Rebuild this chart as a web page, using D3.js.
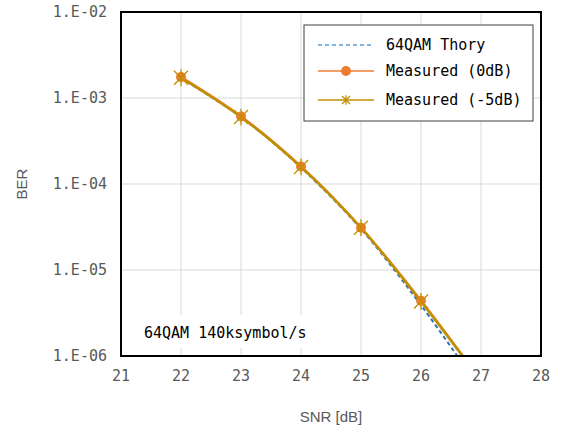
<!DOCTYPE html>
<html>
<head>
<meta charset="utf-8">
<script src="https://cdn.jsdelivr.net/npm/d3@7"></script>
<style>
  body { margin: 0; background: #fff; }
  text { font-family: "DejaVu Sans Mono", monospace; }
</style>
</head>
<body>
<div id="chart"></div>
<script>
const snr = [22, 23, 24, 25, 26, 27]
const theory = [1.7e-3, 6.0e-4, 1.55e-4, 3.0e-5, 3.9e-6, 4.0e-7]
const measured0 = [1.75e-3, 6.1e-4, 1.6e-4, 3.1e-5, 4.4e-6, 5.2e-7]
const measured5 = [1.72e-3, 6.0e-4, 1.58e-4, 3.1e-5, 4.3e-6, 5.1e-7]
const pointSnr = [22, 23, 24, 25, 26]
const xTicks = [21, 22, 23, 24, 25, 26, 27, 28]
const yTicks = [1e-2, 1e-3, 1e-4, 1e-5, 1e-6]
const seriesNames = ['64QAM Thory', 'Measured (0dB)', 'Measured (-5dB)']
const colors = ['#2e75b6', '#ed7d31', '#c09000']

const width = 561
const height = 427
const margin = { top: 12, right: 20, bottom: 71, left: 121 }

const svg = d3.select('#chart')
  .append('svg')
  .attr('width', width)
  .attr('height', height)

const x = d3.scaleLinear().domain([21, 28]).range([margin.left, width - margin.right])
const y = d3.scaleLog().domain([1e-6, 1e-2]).range([height - margin.bottom, margin.top])

const fmt = (v) => '1.E-0' + Math.round(-Math.log10(v))

// grid
svg.append('g')
  .selectAll('line')
  .data(xTicks)
  .join('line')
  .attr('x1', (d) => x(d)).attr('x2', (d) => x(d))
  .attr('y1', y(1e-2)).attr('y2', y(1e-6))
  .attr('stroke', '#d9d9d9')
svg.append('g')
  .selectAll('line')
  .data(yTicks)
  .join('line')
  .attr('x1', x(21)).attr('x2', x(28))
  .attr('y1', (d) => y(d)).attr('y2', (d) => y(d))
  .attr('stroke', '#d9d9d9')

// tick labels
svg.append('g')
  .selectAll('text')
  .data(xTicks)
  .join('text')
  .attr('x', (d) => x(d))
  .attr('y', y(1e-6) + 25)
  .attr('text-anchor', 'middle')
  .attr('font-size', 15)
  .attr('fill', '#595959')
  .text((d) => d)
svg.append('g')
  .selectAll('text')
  .data(yTicks)
  .join('text')
  .attr('x', x(21) - 14)
  .attr('y', (d) => y(d) + 5)
  .attr('text-anchor', 'end')
  .attr('font-size', 15)
  .attr('fill', '#595959')
  .text(fmt)

// axis titles
svg.append('text')
  .attr('x', (x(21) + x(28)) / 2)
  .attr('y', 422)
  .attr('text-anchor', 'middle')
  .attr('font-size', 15)
  .attr('fill', '#595959')
  .style('font-family', '"Liberation Sans", Arial, sans-serif')
  .text('SNR [dB]')
svg.append('text')
  .attr('transform', `translate(27, ${(y(1e-2) + y(1e-6)) / 2}) rotate(-90)`)
  .attr('text-anchor', 'middle')
  .attr('font-size', 15)
  .attr('fill', '#595959')
  .style('font-family', '"Liberation Sans", Arial, sans-serif')
  .text('BER')

// annotation
svg.append('rect')
  .attr('x', 137).attr('y', 315)
  .attr('width', 180).attr('height', 33)
  .attr('fill', '#fff')
svg.append('text')
  .attr('x', 144)
  .attr('y', 338)
  .attr('font-size', 15)
  .attr('fill', '#000')
  .text('64QAM 140ksymbol/s')

// clip
svg.append('clipPath').attr('id', 'clip')
  .append('rect')
  .attr('x', x(21)).attr('y', y(1e-2))
  .attr('width', x(28) - x(21)).attr('height', y(1e-6) - y(1e-2))

const line = d3.line()
  .x((d) => x(d[0]))
  .y((d) => y(d[1]))
  .curve(d3.curveCatmullRom)

const plot = svg.append('g').attr('clip-path', 'url(#clip)')

plot.append('path')
  .attr('d', line(d3.zip(snr, theory)))
  .attr('fill', 'none')
  .attr('stroke', colors[0])
  .attr('stroke-width', 2)
  .attr('stroke-dasharray', '4,3')
plot.append('path')
  .attr('d', line(d3.zip(snr, measured0)))
  .attr('fill', 'none')
  .attr('stroke', colors[1])
  .attr('stroke-width', 2.5)
plot.append('path')
  .attr('d', line(d3.zip(snr, measured5)))
  .attr('fill', 'none')
  .attr('stroke', colors[2])
  .attr('stroke-width', 2.5)

plot.append('g')
  .selectAll('circle')
  .data(pointSnr)
  .join('circle')
  .attr('cx', (d) => x(d))
  .attr('cy', (d, i) => y(measured0[i]))
  .attr('r', 5)
  .attr('fill', colors[1])

const star = (cx, cy, s) =>
  `M${cx - s},${cy - s}L${cx + s},${cy + s}M${cx - s},${cy + s}L${cx + s},${cy - s}M${cx},${cy - s * 1.2}L${cx},${cy + s * 1.2}`
plot.append('g')
  .selectAll('path')
  .data(pointSnr)
  .join('path')
  .attr('d', (d, i) => star(x(d), y(measured5[i]), 7))
  .attr('stroke', colors[2])
  .attr('stroke-width', 1.3)

// frame
svg.append('rect')
  .attr('x', x(21)).attr('y', y(1e-2))
  .attr('width', x(28) - x(21)).attr('height', y(1e-6) - y(1e-2))
  .attr('fill', 'none')
  .attr('stroke', '#000')
  .attr('stroke-width', 2)

// legend
const legend = svg.append('g').attr('transform', 'translate(304, 25)')
legend.append('rect')
  .attr('width', 229).attr('height', 96)
  .attr('fill', '#fff')
  .attr('stroke', '#404040')
  .attr('stroke-width', 1)
const rowY = [20, 46, 75]
seriesNames.forEach((name, i) => {
  const g = legend.append('g').attr('transform', `translate(0, ${rowY[i]})`)
  g.append('line')
    .attr('x1', 14).attr('x2', 70)
    .attr('stroke', i === 0 ? '#5b9bd5' : colors[i])
    .attr('stroke-width', 1.5)
    .attr('stroke-dasharray', i === 0 ? '4,3' : null)
  if (i === 1) {
    g.append('circle').attr('cx', 42).attr('r', 5).attr('fill', colors[1])
  }
  if (i === 2) {
    g.append('path').attr('d', star(42, 0, 4)).attr('stroke', colors[2]).attr('stroke-width', 1.3)
  }
  g.append('text')
    .attr('x', 82)
    .attr('y', 5)
    .attr('font-size', 15)
    .attr('fill', '#000')
    .text(name)
})
</script>
</body>
</html>
